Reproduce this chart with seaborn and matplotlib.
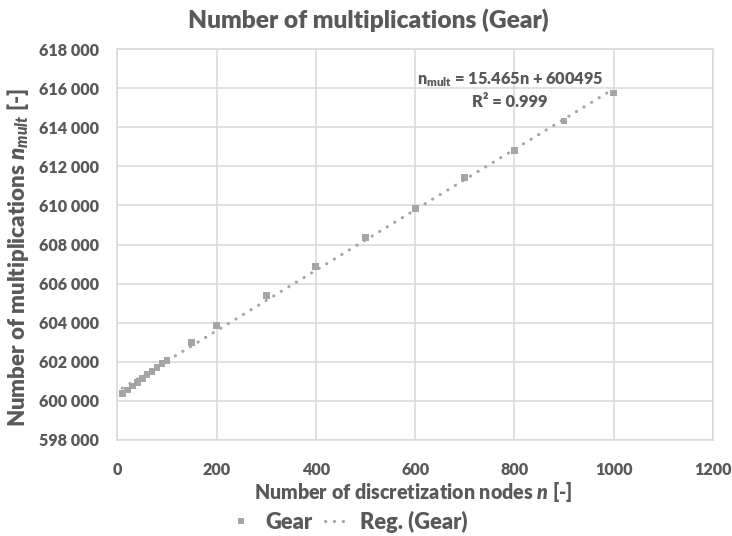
import matplotlib
matplotlib.use("Agg")
import matplotlib.pyplot as plt
import matplotlib.ticker as mticker
from matplotlib.lines import Line2D
import seaborn as sns
import pandas as pd
import numpy as np

# ---- data ----
nodes = [10, 20, 30, 40, 50, 60, 70, 80, 90, 100, 150, 200,
         300, 400, 500, 600, 700, 800, 900, 1000]
multiplications = [600380, 600560, 600760, 600950, 601140, 601330, 601520,
                   601710, 601900, 602080, 603000, 603860,
                   605385, 606856, 608374, 609847, 611408, 612800,
                   614321, 615745]
slope = 15.465
intercept = 600495
r_squared = 0.999
x_ticks = [0, 200, 400, 600, 800, 1000, 1200]
y_ticks = [598000, 600000, 602000, 604000, 606000, 608000, 610000,
           612000, 614000, 616000, 618000]

title = "Number of multiplications (Gear)"
x_label = "Number of discretization nodes $\\mathbfit{n}$ [-]"
y_label = "Number of multiplications $\\mathbfit{n}_{\\mathbfit{mult}}$ [-]"
series_name = "Gear"
reg_name = "Reg. (Gear)"

# ---- style ----
sns.set_theme(style="whitegrid")
plt.rcParams["font.family"] = ["Lato", "DejaVu Sans"]
plt.rcParams["mathtext.fontset"] = "custom"
plt.rcParams["mathtext.rm"] = "Lato:heavy"
plt.rcParams["mathtext.it"] = "Lato:italic:heavy"
plt.rcParams["mathtext.bf"] = "Lato:heavy"
plt.rcParams["mathtext.bfit"] = "Lato:italic:heavy"

W = "heavy"
text_c = "#595959"
grid_c = "#D9D9D9"
mark_c = "#A5A5A5"
FW, FH = 732, 536

def fx(px):
    return px / FW

def fy(py):
    return 1 - py / FH

df = pd.DataFrame({"n": nodes, "mult": multiplications})
reg_x = np.array([min(nodes), max(nodes)])
reg_df = pd.DataFrame({"n": reg_x, "mult": slope * reg_x + intercept})

fig = plt.figure(figsize=(7.32, 5.36), dpi=100)
ax = fig.add_axes([fx(117.3), fy(440), fx(713 - 117.3), (440 - 49) / FH])

dot_style = (0, (0.1, 2.8))
sns.lineplot(data=reg_df, x="n", y="mult", ax=ax, color=mark_c,
             linewidth=2.2, linestyle=dot_style, zorder=2)
ax.lines[-1].set_dash_capstyle("round")
sns.scatterplot(data=df, x="n", y="mult", ax=ax, color=mark_c, marker="s",
                s=24, edgecolor="none", zorder=3)

ax.set_xlim(0, 1200)
ax.set_ylim(598000, 618000)
ax.set_xticks(x_ticks)
ax.set_yticks(y_ticks)
ax.yaxis.set_major_formatter(mticker.FuncFormatter(
    lambda v, p: f"{int(v):,}".replace(",", " ")))

ax.grid(True, color=grid_c, linewidth=1.1)
for sp in ax.spines.values():
    sp.set_visible(True)
    sp.set_color(grid_c)
    sp.set_linewidth(1.1)
ax.tick_params(axis="x", length=0, pad=15.5, labelcolor=text_c, labelsize=12)
ax.tick_params(axis="y", length=0, pad=13, labelcolor=text_c, labelsize=12)
for lab in ax.get_xticklabels() + ax.get_yticklabels():
    lab.set_fontweight(W)

ax.set_xlabel(x_label, color=text_c, fontsize=14, fontweight=W)
ax.xaxis.label.set_va("center")
ax.xaxis.set_label_coords(fx(413), fy(492), transform=fig.transFigure)
ax.set_ylabel(y_label, color=text_c, fontsize=14, fontweight=W)
ax.yaxis.label.set_va("center")
ax.yaxis.set_label_coords(fx(18), fy(257), transform=fig.transFigure)

t_title = fig.text(fx(368), fy(20), title, ha="center", va="center",
                   color=text_c, fontsize=17.5, fontweight=W)

t_eq = ax.text(fx(510), fy(80),
               f"$\\mathbf{{n}}_{{\\mathbf{{mult}}}}$ = {slope}n + {intercept}",
               transform=fig.transFigure, ha="center", va="center",
               color=text_c, fontsize=14, fontweight=W)
t_r2 = ax.text(fx(510), fy(102), f"R² = {r_squared}",
               transform=fig.transFigure, ha="center", va="center",
               color=text_c, fontsize=14, fontweight=W)

handles = [
    Line2D([], [], color=mark_c, marker="s", linestyle="none",
           markersize=5, markeredgewidth=0),
    Line2D([], [], color=mark_c, linewidth=2.2, linestyle=dot_style,
           dash_capstyle="round"),
]
if ax.get_legend() is not None:
    ax.get_legend().remove()

# fit text sizes to the pixel lengths measured on the reference
fig.canvas.draw()
rend = fig.canvas.get_renderer()

def width(t):
    return t.get_window_extent(rend).width

def height(t):
    return t.get_window_extent(rend).height

def fit(t, target, vertical=False):
    size = height(t) if vertical else width(t)
    t.set_fontsize(t.get_fontsize() * target / size)

fit(t_title, 360)
fit(t_eq, 187)
fit(t_r2, 76)
fit(ax.xaxis.label, 320)
fit(ax.yaxis.label, 340, vertical=True)

probe = fig.text(0, 0, "618 000", fontsize=12, fontweight=W)
tick_size = 12 * 60 / width(probe)
probe.set_text(reg_name)
probe.set_fontsize(14)
leg_size = 14 * 108 / width(probe)
probe.remove()
ax.tick_params(axis="both", labelsize=tick_size)

leg = fig.legend(handles, [series_name, reg_name], loc="center",
                 bbox_to_anchor=(fx(349), fy(522)), ncol=2, frameon=False,
                 fontsize=leg_size, handlelength=1.0, handletextpad=0.6,
                 columnspacing=0.6, borderpad=0.1)
for t in leg.get_texts():
    t.set_color(text_c)
    t.set_fontweight(W)

fig.savefig("out.png", dpi=100)
